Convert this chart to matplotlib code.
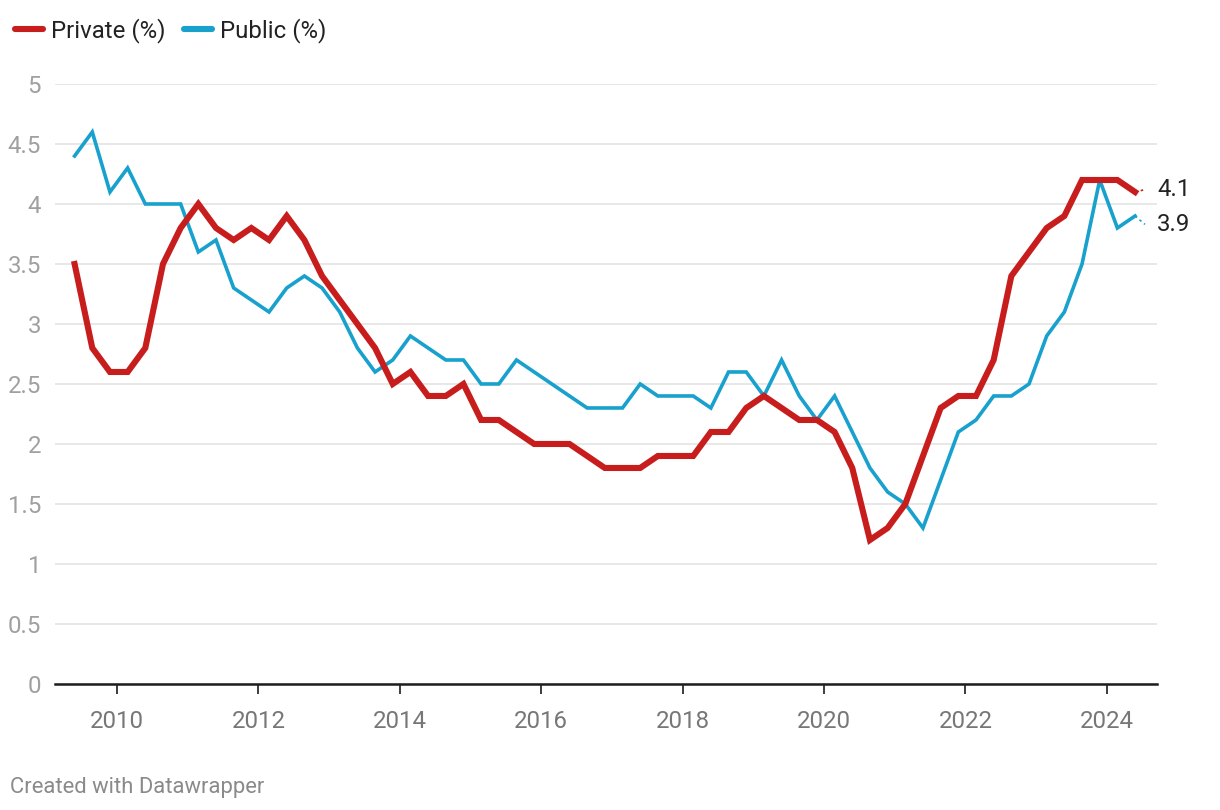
import matplotlib.pyplot as plt
import numpy as np

# quarterly series, first point mid-2009 Q2, last 2024 Q2
start_year = 2009.4
private = [3.5, 2.8, 2.6, 2.6, 2.8, 3.5, 3.8, 4.0, 3.8, 3.7, 3.8, 3.7, 3.9, 3.7, 3.4, 3.2,
           3.0, 2.8, 2.5, 2.6, 2.4, 2.4, 2.5, 2.2, 2.2, 2.1, 2.0, 2.0, 2.0, 1.9, 1.8, 1.8,
           1.8, 1.9, 1.9, 1.9, 2.1, 2.1, 2.3, 2.4, 2.3, 2.2, 2.2, 2.1, 1.8, 1.2, 1.3, 1.5,
           1.9, 2.3, 2.4, 2.4, 2.7, 3.4, 3.6, 3.8, 3.9, 4.2, 4.2, 4.2, 4.1]
public = [4.4, 4.6, 4.1, 4.3, 4.0, 4.0, 4.0, 3.6, 3.7, 3.3, 3.2, 3.1, 3.3, 3.4, 3.3, 3.1,
          2.8, 2.6, 2.7, 2.9, 2.8, 2.7, 2.7, 2.5, 2.5, 2.7, 2.6, 2.5, 2.4, 2.3, 2.3, 2.3,
          2.5, 2.4, 2.4, 2.4, 2.3, 2.6, 2.6, 2.4, 2.7, 2.4, 2.2, 2.4, 2.1, 1.8, 1.6, 1.5,
          1.3, 1.7, 2.1, 2.2, 2.4, 2.4, 2.5, 2.9, 3.1, 3.5, 4.2, 3.8, 3.9]
x_ticks = [2010, 2012, 2014, 2016, 2018, 2020, 2022, 2024]
y_ticks = [0, 0.5, 1, 1.5, 2, 2.5, 3, 3.5, 4, 4.5, 5]
y_ticklabels = ["0", "0.5", "1", "1.5", "2", "2.5", "3", "3.5", "4", "4.5", "5"]

RED = "#c71e1d"
BLUE = "#18a1cd"
FS = 17.3

plt.rcParams['font.family'] = ['Roboto', 'DejaVu Sans']

x = start_year + 0.25 * np.arange(len(private))

fig = plt.figure(figsize=(12.2, 8.1), dpi=100)
ax = fig.add_axes([0.0451, 0.1556, 0.9033, 0.7407])

ax.plot(x, public, color=BLUE, lw=2.6, solid_joinstyle='miter', label="Public (%)", zorder=3)
ax.plot(x, private, color=RED, lw=4.4, solid_joinstyle='miter', label="Private (%)", zorder=4)

ax.set_xlim(2009.123, 2024.711)
ax.set_ylim(0, 5)

ax.set_yticks(y_ticks)
ax.set_yticklabels(y_ticklabels)
ax.set_xticks(x_ticks)
ax.set_xticklabels([str(t) for t in x_ticks])

ax.grid(axis='y', color='#e2e2e2', lw=1.1)
ax.set_axisbelow(True)
for side in ['left', 'right', 'top']:
    ax.spines[side].set_visible(False)
ax.spines['bottom'].set_color('#1d1d1d')
ax.spines['bottom'].set_linewidth(1.8)
ax.spines['bottom'].set_zorder(5)

ax.tick_params(axis='y', length=0, pad=10, labelsize=FS, labelcolor='#a0a0a0')
ax.tick_params(axis='x', length=7, width=1.2, color='#1d1d1d', pad=11.5,
               labelsize=FS, labelcolor='#777777')

# end labels with dotted connectors
label_pos = [(private[-1], 4.12, RED), (public[-1], 3.83, BLUE)]
for val, ly, col in label_pos:
    ax.plot([x[-1], x[-1] + 0.14], [val, ly], color=col, lw=1.2,
            dashes=(1.5, 2), clip_on=False)
    ax.text(2024.711, ly, f"{val:.1f}", ha='left', va='center', fontsize=FS,
            color='#222222', clip_on=False)

handles, labels = ax.get_legend_handles_labels()
leg = fig.legend(handles[::-1], labels[::-1], loc='upper left',
                 bbox_to_anchor=(0.0045, 1 - 8 / 810), borderaxespad=0,
                 ncol=2, frameon=False, fontsize=FS, handlelength=1.15,
                 handletextpad=0.33, columnspacing=0.8)
for line in leg.get_lines():
    line.set_solid_capstyle('round')
    line.set_linewidth(4.4)
for t in leg.get_texts():
    t.set_color('#222222')

fig.text(0.008, 0.028, "Created with Datawrapper", fontsize=15.8, color='#8a8a8a',
         ha='left', va='center')

fig.savefig("out.png", dpi=100)
